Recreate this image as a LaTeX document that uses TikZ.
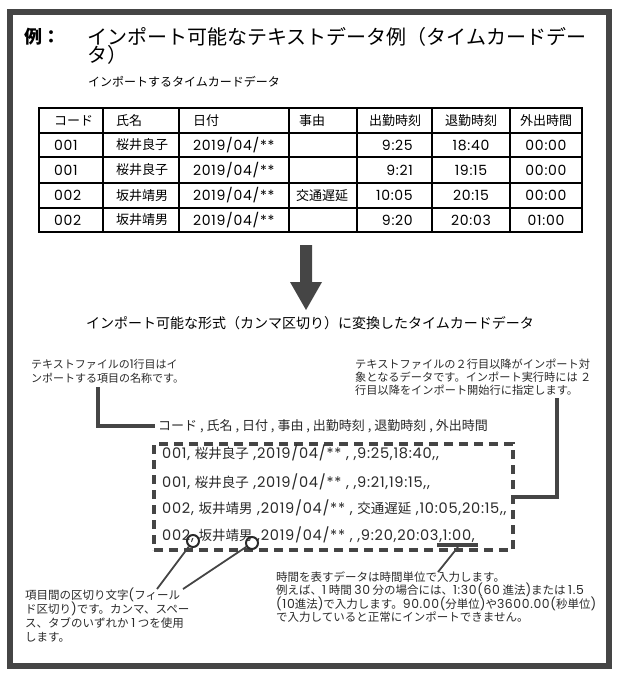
\documentclass[tikz,border=0pt]{standalone}
\usepackage{fontspec}
\setmainfont{Noto Sans CJK JP}
\newfontfamily\numfont{Poppins}[Scale=1.08,LetterSpace=5]
\newcommand{\dig}[1]{{\numfont #1}}
\definecolor{framegray}{HTML}{454545}
\definecolor{inkgray}{HTML}{2A2A2A}
\tikzset{
  cell/.style={anchor=center,inner sep=0pt,font=\fontsize{13}{15}\selectfont},
  cellw/.style={cell,anchor=west},
  note/.style={anchor=north west,inner sep=0pt,align=left,text=inkgray,font=\fontsize{11}{14}\selectfont},
  csvline/.style={anchor=west,inner sep=0pt,text=inkgray,font=\fontsize{13.5}{15}\selectfont},
  link/.style={line width=4pt,color=framegray},
  pointer/.style={line width=1.8pt,color=framegray}
}
\begin{document}
\begin{tikzpicture}[x=1pt,y=-1pt]
\useasboundingbox (0,0) rectangle (620,677);
% frame
\draw[line width=6pt,framegray](10,12) rectangle (609,666);
% title
\node[anchor=west,inner sep=0pt,font=\bfseries\fontsize{18}{20}\selectfont](rei) at(24,37){例：};
\node[anchor=west,inner sep=0pt,font=\fontsize{20}{22}\selectfont](title) at(87,37){インポート可能なテキストデータ例（タイムカードデー};
\node[anchor=west,inner sep=0pt,font=\fontsize{20}{22}\selectfont](titlecont) at(87,55){タ）};
\node[anchor=west,inner sep=0pt,font=\fontsize{12}{14}\selectfont](source) at(88,82){インポートするタイムカードデータ};

% table
\draw[line width=1.8pt](39,108) rectangle (582,232);
\foreach \y in {133,157,183,208}
  \draw[line width=1.5pt](39,\y)--(582,\y);
\foreach \x in {103,179,289,357,432,510}
  \draw[line width=1.5pt](\x,108)--(\x,232);
\node[cellw](hcode) at(54,120.5){コード};
\node[cellw](hname) at(116,120.5){氏名};
\node[cellw](hdate) at(193,120.5){日付};
\node[cellw](hreason) at(299,120.5){事由};
\node[cell](hin) at(395,120.5){出勤時刻};
\node[cell](hout) at(471,120.5){退勤時刻};
\node[cell](haway) at(546,120.5){外出時間};
\foreach \y/\c/\n/\r/\i/\o/\g [count=\k] in {145/001/桜井良子/{}/9:25/18:40/00:00,
    170/001/桜井良子/{}/9:21/19:15/00:00,
    195.5/002/坂井靖男/交通遅延/10:05/20:15/00:00,
    220/002/坂井靖男/{}/9:20/20:03/01:00}{
  \node[cellw](code\k) at(54,\y){\dig{\c}};
  \node[cellw](name\k) at(116,\y){\n};
  \node[cellw](date\k) at(193,\y){\dig{2019/04/**}};
  \node[cellw](reason\k) at(296,\y){\r};
  \node[cell,anchor=east](in\k) at(413,\y){\dig{\i}};
  \node[cell](out\k) at(471,\y){\dig{\o}};
  \node[cell](away\k) at(546,\y){\dig{\g}};
}

% arrow
\fill[framegray](300,245)--(312,245)--(312,282)--(322,282)--(306,310)--(290,282)--(300,282)--cycle;
\node[inner sep=0pt,font=\fontsize{14}{16}\selectfont](converted) at(310,323){インポート可能な形式（カンマ区切り）に変換したタイムカードデータ};

% notes on the rows
\node[note](firstnote) at(31,359){テキストファイルの\dig{1}行目はイ\\ンポートする項目の名称です。};
\node[note,font=\fontsize{11.2}{13}\selectfont](restnote) at(355,359){テキストファイルの２行目以降がインポート対\\象となるデータです。インポート実行時には ２\\行目以降をインポート開始行に指定します。};

\node[csvline,inner sep=3pt,font=\fontsize{13}{15}\selectfont](header) at(155,426){コード , 氏名 , 日付 , 事由 , 出勤時刻 , 退勤時刻 , 外出時間};
\node[draw=framegray,line width=3.5pt,dash pattern=on 9pt off 6pt,minimum width=359pt,minimum height=106pt,inner sep=0pt](csvbox) at(333.5,497){};
\node[csvline](rowA) at(162,453){\dig{001, }桜井良子\dig{ ,2019/04/** , ,9:25,18:40,,}};
\node[csvline](rowB) at(162,482){\dig{001, }桜井良子\dig{ ,2019/04/** , ,9:21,19:15,,}};
\node[csvline](rowC) at(162,508){\dig{002, }坂井靖男\dig{ ,2019/04/** , }交通遅延\dig{ ,10:05,20:15,,}};
\node[csvline](rowD) at(162,535){\dig{002, }坂井靖男\dig{ ,2019/04/** , ,9:20,20:03,1:00,}};

\coordinate(firstrow) at(98,387);
\draw[link](firstrow)|-(header.west);
\coordinate(datarows) at(557,398);
\draw[link](datarows)|-(csvbox.east);

% separators and hours
\node[circle,draw=inkgray,line width=2pt,minimum size=12pt,inner sep=0pt](sepA) at(193,541){};
\node[circle,draw=inkgray,line width=2pt,minimum size=12pt,inner sep=0pt](sepB) at(252,543){};
\coordinate(sepnoteA) at(157,589);
\coordinate(sepnoteB) at(183,589);
\draw[pointer](sepA)--(sepnoteA);
\draw[pointer](sepB)--(sepnoteB);
\draw[line width=3.5pt,framegray](437,545)--(478,545);
\coordinate(hourmark) at(458,547);
\coordinate(hournote) at(438,572);
\draw[pointer](hourmark)--(hournote);

\node[note,font=\fontsize{11.5}{14}\selectfont](sepnote) at(25,588){項目間の区切り文字\dig{(}フィール\\ド区切り\dig{)}です。カンマ、スペー\\ス、タブのいずれか \dig{1} つを使用\\します。};
\node[note,font=\fontsize{11.5}{13}\selectfont](hournotetext) at(276,571){時間を表すデータは時間単位で入力します。\\例えば、\dig{1} 時間 \dig{30} 分の場合には、\dig{1:30(60} 進法\dig{)}または \dig{1.5}\\\dig{(10}進法\dig{)}で入力します。\dig{90.00(}分単位\dig{)}や\dig{3600.00(}秒単位\dig{)}\\で入力していると正常にインポートできません。};
\end{tikzpicture}
\end{document}
